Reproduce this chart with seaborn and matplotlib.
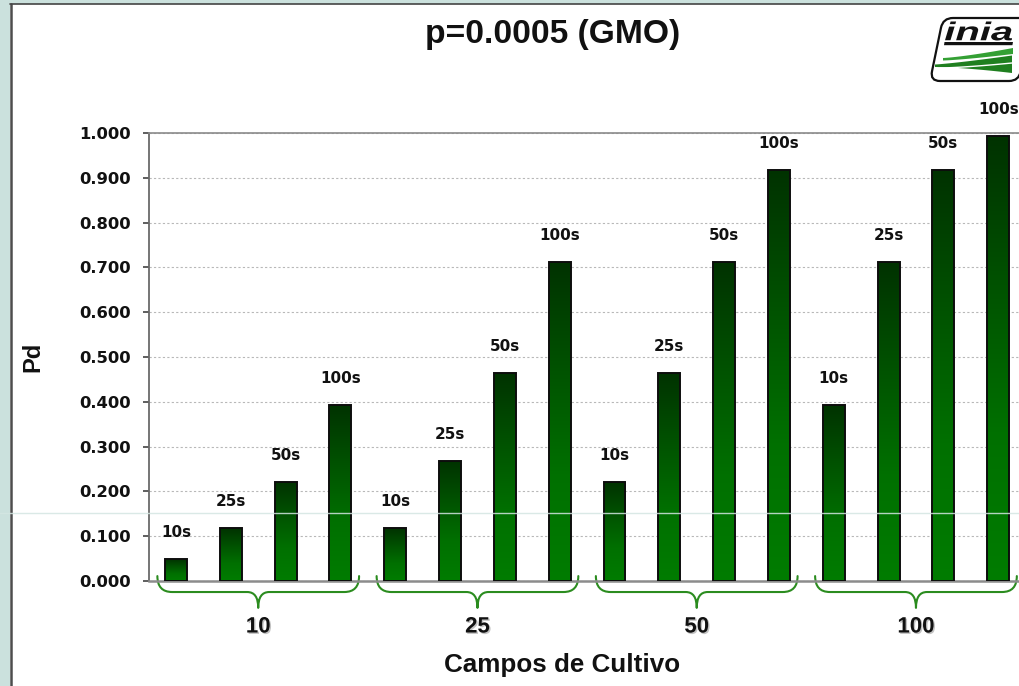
import numpy as np
import pandas as pd
import matplotlib
matplotlib.use("Agg")
import matplotlib.pyplot as plt
import seaborn as sns
import matplotlib.transforms as mtransforms
import matplotlib.patheffects as pe
from matplotlib.colors import LinearSegmentedColormap
from matplotlib.patches import Rectangle, PathPatch, Polygon
from matplotlib.path import Path
from matplotlib.lines import Line2D
from matplotlib.textpath import TextPath
from matplotlib.font_manager import FontProperties

# ---- data -------------------------------------------------------------
campos = ["10", "25", "50", "100"]
muestras = ["10s", "25s", "50s", "100s"]
pd_campo_10 = [0.049, 0.118, 0.221, 0.393]
pd_campo_25 = [0.118, 0.268, 0.465, 0.713]
pd_campo_50 = [0.221, 0.465, 0.713, 0.918]
pd_campo_100 = [0.393, 0.713, 0.918, 0.993]
y_ticks = [0.0, 0.1, 0.2, 0.3, 0.4, 0.5, 0.6, 0.7, 0.8, 0.9, 1.0]

titulo = "p=0.0005 (GMO)"
eje_x = "Campos de Cultivo"
eje_y = "Pd"

valores = [pd_campo_10, pd_campo_25, pd_campo_50, pd_campo_100]
filas = []
for c, serie in zip(campos, valores):
    for m, v in zip(muestras, serie):
        filas.append({"campo": c, "muestra": m, "barra": f"{c}-{m}", "Pd": v})
df = pd.DataFrame(filas)

# ---- style -------------------------------------------------------------
sns.set_theme(style="white")
plt.rcParams["font.family"] = ["DejaVu Sans"]
ARIAL = "Liberation Sans"
INK = "#111111"

W, H = 1020, 686
fig = plt.figure(figsize=(W / 100, H / 100), dpi=100)
fig.patch.set_facecolor("#cbe1dd")

def fx(px):
    return px / W

def fy(py):
    return 1 - py / H

# white panel with dark left / top border
fig.add_artist(Rectangle((fx(10), 0), 1, fy(4), transform=fig.transFigure,
                         facecolor="white", edgecolor="none", zorder=-2))
fig.add_artist(Line2D([fx(11.2)] * 2, [0, fy(3.6)], transform=fig.transFigure,
                      color="#4d4d4d", lw=1.8, zorder=-1))
fig.add_artist(Line2D([fx(10), 1], [fy(4.2)] * 2, transform=fig.transFigure,
                      color="#444444", lw=1.2, zorder=-1))

# ---- bars --------------------------------------------------------------
ax = fig.add_axes([fx(148.6), 105 / H, 877 / W, 448 / H])
ax.set_facecolor("none")

sns.barplot(data=df, x="barra", y="Pd", order=list(df["barra"]), width=0.4,
            color="#006600", edgecolor="#0d0d0d", linewidth=1.4,
            errorbar=None, ax=ax, zorder=3)

# vertical green gradient inside every bar (bright at the base, dark at the top)
verde = LinearSegmentedColormap.from_list(
    "verde", ["#007c00", "#007000", "#005200", "#003200"])
grad = np.linspace(0, 1, 256).reshape(-1, 1)
for bar in ax.patches:
    x0, y0 = bar.get_x(), bar.get_y()
    w, h = bar.get_width(), bar.get_height()
    im = ax.imshow(grad, extent=[x0, x0 + w, y0, y0 + h], origin="lower",
                   cmap=verde, aspect="auto", interpolation="bilinear", zorder=2.9)
    im.set_clip_path(bar)
    bar.set_facecolor("none")

ax.set_xlim(-0.5, 15.5)
ax.set_ylim(0, 1)
ax.set_xticks([])
ax.set_xlabel("")
ax.set_ylabel("")

ax.set_yticks(y_ticks)
ax.set_yticklabels([f"{t:.3f}" for t in y_ticks], fontsize=11.8,
                   fontweight="bold", color=INK)
ax.tick_params(axis="y", left=True, length=4.3, width=1.1, color="#333333",
               pad=8.6)
ax.yaxis.grid(True, linestyle=(0, (2, 2)), color="#b8b8b8", linewidth=0.8)
ax.set_axisbelow(True)

ax.spines["right"].set_visible(False)
ax.spines["left"].set_color("#6a6a6a")
ax.spines["left"].set_linewidth(1.3)
ax.spines["top"].set_color("#8a8a8a")
ax.spines["top"].set_linewidth(1.2)
ax.spines["bottom"].set_color("#8c8c8c")
ax.spines["bottom"].set_linewidth(1.8)

# sample-size labels above each bar
for bar, (_, fila) in zip(ax.patches, df.iterrows()):
    cx = bar.get_x() + bar.get_width() / 2
    ax.annotate(fila["muestra"], (cx, fila["Pd"]), xytext=(0, 15.8),
                textcoords="offset points", ha="center", va="baseline",
                fontsize=11, fontweight="bold", color=INK,
                annotation_clip=False, zorder=5)

# ---- curly braces grouping the fields ---------------------------------
blend = mtransforms.blended_transform_factory(ax.transData, ax.transAxes)
y_top, y_mid, y_tip = 0.011, -0.0246, -0.060
r_end, r_cusp = 0.27, 0.2
sombra = [pe.withSimplePatchShadow(offset=(1.0, -1.0), shadow_rgbFace="#7a7a7a",
                                   alpha=0.45)]
for gi, c in enumerate(campos):
    barras = ax.patches[gi * 4:(gi + 1) * 4]
    c_first = barras[0].get_x() + barras[0].get_width() / 2
    c_last = barras[-1].get_x() + barras[-1].get_width() / 2
    xl, xr = c_first - 0.34, c_last + 0.34
    xc = (c_first + c_last) / 2
    verts = [(xl, y_top), (xl, y_mid), (xl + r_end, y_mid),
             (xc - r_cusp, y_mid),
             (xc, y_mid), (xc, y_tip),
             (xc, y_mid), (xc + r_cusp, y_mid),
             (xr - r_end, y_mid),
             (xr, y_mid), (xr, y_top)]
    codes = [Path.MOVETO, Path.CURVE3, Path.CURVE3,
             Path.LINETO,
             Path.CURVE3, Path.CURVE3,
             Path.CURVE3, Path.CURVE3,
             Path.LINETO,
             Path.CURVE3, Path.CURVE3]
    ax.add_patch(PathPatch(Path(verts, codes), transform=blend, fill=False,
                           edgecolor="#2b8c1f", lw=1.5, capstyle="round",
                           joinstyle="round", clip_on=False))
    ax.text(xc, -0.1027, c, transform=blend, ha="center", va="center",
            fontsize=16, fontweight="bold", family=ARIAL, color=INK,
            path_effects=sombra)

# ---- titles ------------------------------------------------------------
fig.text(fx(553), fy(34), titulo, ha="center", va="center", fontsize=24.2,
         fontweight="bold", family=ARIAL, color=INK)
fig.text(fx(562), fy(665), eje_x, ha="center", va="center", fontsize=18.7,
         fontweight="bold", family=ARIAL, color=INK)
fig.text(fx(33), fy(357), eje_y, ha="center", va="center", rotation=90,
         fontsize=17, fontweight="bold", family=ARIAL, color=INK)

# faint horizontal rule across the sheet
fig.add_artist(Line2D([0, 1], [fy(513)] * 2, transform=fig.transFigure,
                      color="#d4e6e2", lw=1.0, alpha=0.85, zorder=20))

# ---- logo --------------------------------------------------------------
lg = fig.add_axes([fx(915), fy(90), 105 / W, 80 / H])
lg.set_xlim(915, 1020)
lg.set_ylim(90, 10)
lg.axis("off")

def rounded(points, r):
    n = len(points)
    verts, codes = [], []
    for i in range(n):
        p = np.array(points[i], float)
        a = np.array(points[i - 1], float)
        b = np.array(points[(i + 1) % n], float)
        pa = p + (a - p) / np.linalg.norm(a - p) * r
        pb = p + (b - p) / np.linalg.norm(b - p) * r
        verts += [tuple(pa), tuple(p), tuple(pb)]
        codes += [Path.MOVETO if i == 0 else Path.LINETO, Path.CURVE3, Path.CURVE3]
    verts.append(verts[0])
    codes.append(Path.CLOSEPOLY)
    return Path(verts, codes)

marco = rounded([(943, 18), (1030, 18), (1019, 81), (930, 81)], 10)
lg.add_patch(PathPatch(marco, facecolor="white", edgecolor="#111111", lw=1.6))

tp = TextPath((0, 0), "inia", size=1,
              prop=FontProperties(family=ARIAL, weight="bold", style="italic"))
ext = tp.get_extents()
sx = 67 / ext.width
sy = 19 / ext.height
tr = mtransforms.Affine2D().translate(-ext.x0, -ext.y0).scale(sx, -sy).translate(945, 40.5)
lg.add_patch(PathPatch(tr.transform_path(tp), facecolor="#111111", edgecolor="none"))
lg.add_patch(Polygon([(944.5, 42), (1013, 42), (1012.4, 45.2), (944, 45.2)],
                     closed=True, facecolor="#111111", edgecolor="none"))

t = np.linspace(0, 1, 40)
top1 = np.column_stack([943 + 70 * t, 58 - 10 * t ** 1.3])
bot1 = np.column_stack([943 + 70 * t, 60.5 - 6.5 * t ** 1.3])
lg.add_patch(Polygon(np.vstack([top1, bot1[::-1]]), closed=True,
                     facecolor="#34a034", edgecolor="none"))
top2 = np.column_stack([935 + 77 * t, 64.5 - 9 * t ** 1.2])
bot2 = np.column_stack([935 + 77 * t, 67 + 6 * t ** 1.5])
lg.add_patch(Polygon(np.vstack([top2, bot2[::-1]]), closed=True,
                     facecolor="#1f7f1f", edgecolor="none"))
mid = np.column_stack([940 + 72 * t, 68 - 5 * t ** 1.4])
lg.plot(mid[:, 0], mid[:, 1], color="white", lw=1.0)

fig.savefig("out.png", dpi=100, facecolor=fig.get_facecolor())
